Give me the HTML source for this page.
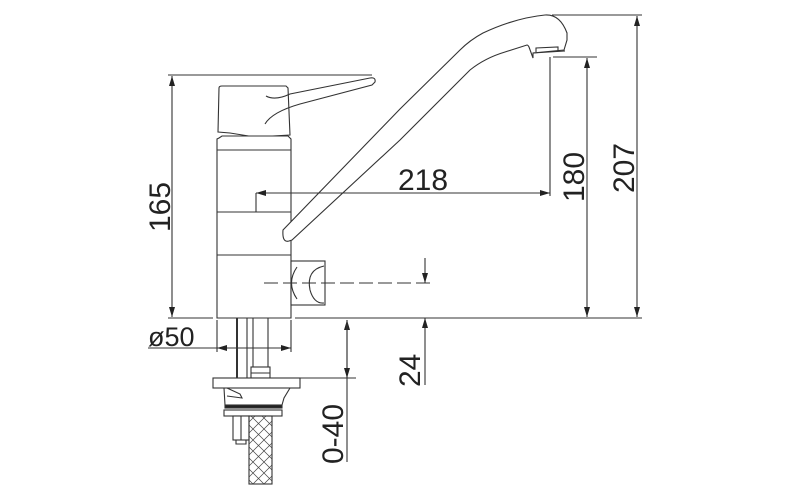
<!DOCTYPE html>
<html><head><style>html,body{margin:0;padding:0;background:#fff}svg{display:block}</style></head>
<body>
<svg width="800" height="498" viewBox="0 0 800 498" xmlns="http://www.w3.org/2000/svg">
<defs>
<marker id="a" viewBox="0 0 10 6" refX="10" refY="3" markerWidth="10" markerHeight="6" orient="auto-start-reverse" markerUnits="userSpaceOnUse"><path d="M0,0L10,3L0,6z" fill="#222"/></marker>
<pattern id="hx" width="11" height="11" patternUnits="userSpaceOnUse"><path d="M0,0L11,11M11,0L0,11" stroke="#444" stroke-width="0.7"/></pattern>
</defs>
<g fill="none" stroke="#333" stroke-width="1.1">
<line x1="168" y1="75" x2="372" y2="75"/>
<path d="M219,88 Q219,86 222,86 L286,86 L288,88 L290,135 L255,137 L230,133 L218,132 Z" fill="#fff"/>
<path d="M266,96 Q275,101 290,94 L370,78 Q376,77 375,82 L372,85 L300,104 Q272,112 265,124"/>
<path d="M219,138 L222,136 L288,136 L291,139 L291,318 L217,318 L217,139 Z" fill="#fff"/>
<line x1="217" y1="150" x2="291" y2="150"/>
<line x1="217" y1="212" x2="291" y2="212"/>
<line x1="217" y1="255" x2="291" y2="255"/>
<rect x="291" y="261" width="34" height="44" fill="#fff"/>
<path d="M297,267 Q286,283 297,299"/>
<path d="M324,266 Q306,270 310,290 Q314,304 324,303"/>
<line x1="264" y1="283" x2="430" y2="283" stroke-dasharray="14,5"/>
<path d="M289,241 Q282,243 283,230 L400,109 L460,50 Q470,40 483,33 Q515,18 545,15 Q560,14 567,33 L567,40 L564,50 L533,53 L533,58 L529,47 Q528,45 527,45 L505,52 Q485,58 470,70 L400,140 L292,240 Z" fill="#fff"/>
<path d="M533,53 L565,51"/>
<path d="M536,52 L536,48 L558,47 L558,51"/>
<line x1="256" y1="212" x2="256" y2="193"/>
<line x1="256" y1="193" x2="550" y2="193" marker-start="url(#a)" marker-end="url(#a)"/>
<line x1="550" y1="57" x2="550" y2="196"/>
<line x1="553" y1="57" x2="597" y2="57"/>
<line x1="587" y1="58" x2="587" y2="317" marker-start="url(#a)" marker-end="url(#a)"/>
<line x1="552" y1="15" x2="642" y2="15"/>
<line x1="637" y1="16" x2="637" y2="317" marker-start="url(#a)" marker-end="url(#a)"/>
<line x1="168" y1="318" x2="213" y2="318"/>
<line x1="295" y1="318" x2="642" y2="318"/>
<line x1="172" y1="76" x2="172" y2="317" marker-start="url(#a)" marker-end="url(#a)"/>
<line x1="425" y1="258" x2="425" y2="283" marker-end="url(#a)"/>
<line x1="425" y1="385" x2="425" y2="318" marker-end="url(#a)"/>
<line x1="217" y1="320" x2="217" y2="352"/>
<line x1="291" y1="320" x2="291" y2="352"/>
<line x1="148" y1="348" x2="217" y2="348"/>
<line x1="217" y1="348" x2="291" y2="348" marker-start="url(#a)" marker-end="url(#a)"/>
<line x1="237" y1="318" x2="237" y2="378" stroke-width="2"/>
<line x1="247" y1="318" x2="247" y2="378"/>
<line x1="253" y1="318" x2="253" y2="367"/>
<line x1="268" y1="318" x2="268" y2="367"/>
<rect x="251" y="367" width="19" height="11" fill="#fff"/>
<line x1="251" y1="373" x2="270" y2="373"/>
<rect x="213" y="378" width="87" height="10" fill="#fff"/>
<path d="M224,388 L225,405 L282,405 L284,398 L290,388"/>
<path d="M227,388 L240,394 L242,398 L227,396"/>
<rect x="225" y="405" width="57" height="3" fill="#222"/>
<rect x="224" y="410" width="58" height="6" fill="#fff"/>
<rect x="233" y="416" width="16" height="24" fill="#fff"/>
<line x1="241" y1="416" x2="241" y2="440"/>
<path d="M236,440 L236,444 L246,444 L246,440"/>
<rect x="249" y="416" width="23" height="68" fill="url(#hx)"/>
<line x1="300" y1="378" x2="356" y2="378"/>
<line x1="347" y1="378" x2="347" y2="320" marker-end="url(#a)"/>
<line x1="347" y1="320" x2="347" y2="378" marker-end="url(#a)"/>
<line x1="347" y1="378" x2="347" y2="462"/>
</g>
<g font-family="Liberation Sans, sans-serif" font-size="30" fill="#222">
<text x="398" y="190">218</text>
<text x="148" y="346" font-size="27">ø50</text>
<text transform="translate(170,232) rotate(-90)">165</text>
<text transform="translate(584,202) rotate(-90)">180</text>
<text transform="translate(634,193) rotate(-90)">207</text>
<text transform="translate(420,387) rotate(-90)">24</text>
<text transform="translate(343,464) rotate(-90)">0-40</text>
</g>
</svg>
</body></html>
